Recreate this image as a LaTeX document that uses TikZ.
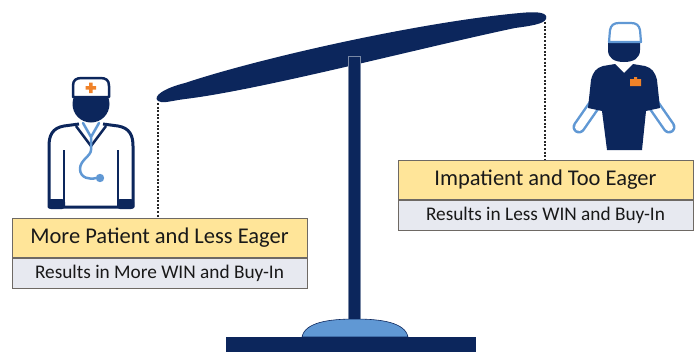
\documentclass[tikz,border=0pt]{standalone}
\usepackage{fontspec}
\setmainfont{Carlito}
\usepackage{xcolor}
\definecolor{navy}{RGB}{12,38,92}
\definecolor{skyblue}{RGB}{96,152,212}
\definecolor{gold}{RGB}{255,229,153}
\definecolor{mist}{RGB}{231,233,240}
\definecolor{edge}{RGB}{110,105,100}
\definecolor{ink}{RGB}{25,25,25}
\definecolor{tangerine}{RGB}{240,130,40}
\usepackage{tikz}
\usetikzlibrary{positioning}

\begin{document}
\begin{tikzpicture}[
  x=1pt, y=-1pt,
  headbox/.style={draw=edge, fill=gold, line width=0.8pt, minimum width=295pt, minimum height=39pt, inner sep=0pt, text=ink, font=\fontsize{22.5}{24}\selectfont},
  notebox/.style={headbox, fill=mist, minimum height=30pt, font=\fontsize{19.3}{21}\selectfont},
  tie/.style={dash pattern=on 2pt off 1.6pt, line width=2pt, color=black!85}
]
\useasboundingbox[fill=white] (0,0) rectangle (696,351);

% the beam, tipped up to the right
\fill[navy] (158,101) .. controls (152,96) and (165,88) .. (185,83) .. controls (260,58) and (420,22) .. (520,13) .. controls (540,11) and (548,13) .. (546,19) .. controls (544,24) and (530,26) .. (515,28) .. controls (420,48) and (260,90) .. (185,99) .. controls (170,101) and (162,104) .. (158,101) -- cycle;
\coordinate (lefttip) at (158,103);
\coordinate (righttip) at (545,22);

% post, dome and foot
\draw[navy!55!white, fill=navy, line width=0.6pt] (348,56) rectangle (360,322);
\draw[navy, line width=0.6pt, fill=skyblue] (302,337) .. controls (305,322) and (330,319) .. (355,319) .. controls (380,319) and (405,322) .. (408,337) -- cycle;
\fill[navy] (226,337) rectangle (476,352);

% label boxes
\node[headbox, anchor=north] (patient) at (159.5,218) {More Patient and Less Eager};
\node[notebox, below=0pt of patient] (patientnote) {Results in More WIN and Buy-In};
\node[headbox, anchor=north] (eager) at (545.5,160) {Impatient and Too Eager};
\node[notebox, below=0pt of eager] (eagernote) {Results in Less WIN and Buy-In};

\draw[tie] (lefttip) -- (lefttip |- patient.north);
\draw[tie] (righttip) -- (righttip |- eager.north);

% doctor in a white coat
\fill[navy] (91,104) circle (18.5);
\draw[navy, fill=white, line width=2.5pt, line join=round] (73,97) -- (73,86) .. controls (73,80) and (76,78) .. (82,78) -- (100,78) .. controls (106,78) and (109,80) .. (109,86) -- (109,97) -- cycle;
\fill[tangerine] (89,82.5) rectangle (92.5,93) (85.5,86) rectangle (96,89.5);
\draw[navy, fill=white, line width=3pt, line join=round] (79,124) -- (64,126) .. controls (52,128) and (49,136) .. (49,146) -- (49,207) -- (133,207) -- (133,146) .. controls (133,136) and (130,128) .. (118,126) -- (103,124);
\draw[navy, line width=2.5pt] (64,150) -- (64,207) (118,150) -- (118,207);
\draw[navy, line width=2.5pt, line join=round] (76,126) -- (91,146) -- (106,126);
\fill[navy, rounded corners=3pt] (48,199) rectangle (65,209) (117,199) rectangle (134,209);
\draw[skyblue, line width=2.5pt, line cap=round, line join=round] (83,123) -- (91,137) -- (99,123) (91,137) -- (91,150) .. controls (91,156) and (80,160) .. (80,169) .. controls (80,178) and (90,180) .. (96,178);
\fill[skyblue] (100,178) circle (4.2);

% surgeon in scrubs
\draw[skyblue, line width=13pt, line cap=round] (595,104) -- (579,127) (653,104) -- (669,127);
\draw[white, line width=8pt, line cap=round] (595,104) -- (579,127) (653,104) -- (669,127);
\fill[navy] (615,64) -- (624,73) -- (633,64) -- (645,66) .. controls (652,68) and (655,72) .. (657,80) -- (660,108) -- (646,111) -- (642,150) -- (607,150) -- (602,111) -- (588,108) -- (591,80) .. controls (593,72) and (596,68) .. (603,66) -- cycle;
\fill[navy] (608,42) -- (608,50) .. controls (608,58) and (614,62) .. (624,62) .. controls (634,62) and (640,58) .. (640,50) -- (640,42) -- cycle;
\draw[skyblue, fill=white, line width=2.2pt, line join=round] (609,42) -- (610,30) .. controls (611,25) and (614,23) .. (619,23) -- (631,23) .. controls (636,23) and (639,25) .. (640,30) -- (641,42) -- cycle;
\fill[tangerine] (630,79) rectangle (641,86) (634,77) rectangle (637,79);
\end{tikzpicture}
\end{document}
